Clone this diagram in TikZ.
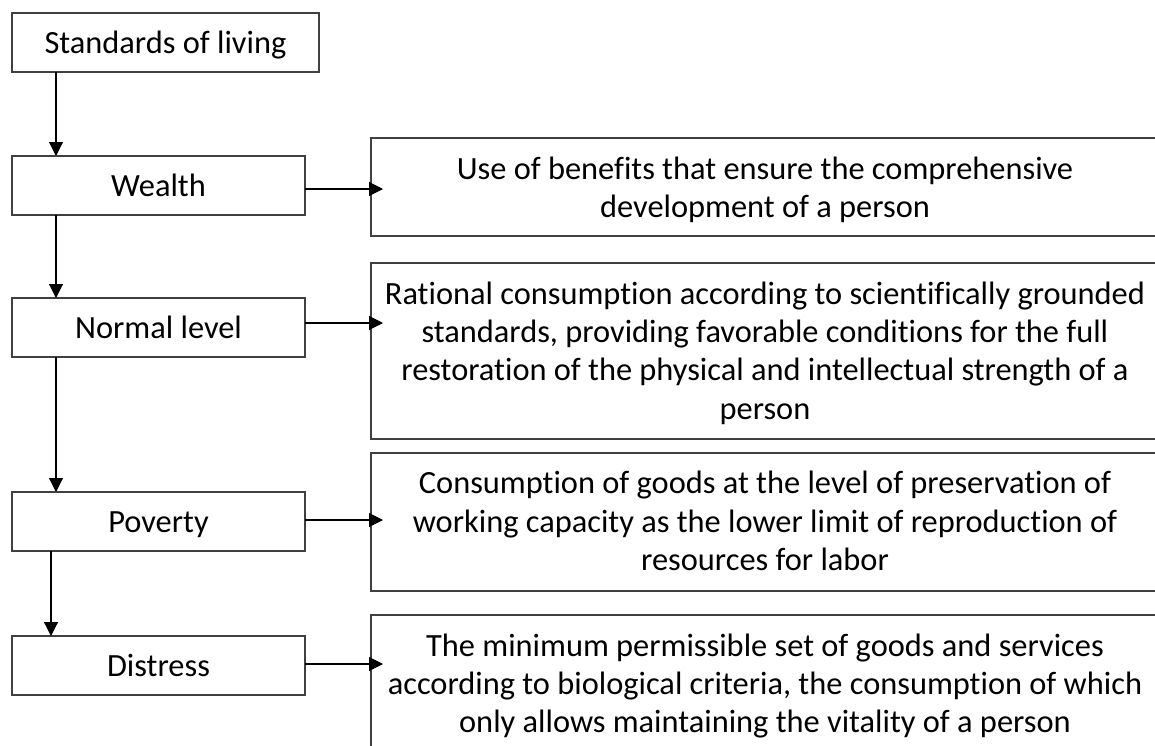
\documentclass[tikz,border=0pt]{standalone}
\usepackage{fontspec}
\setmainfont{Carlito}[Ligatures=NoCommon]
\usetikzlibrary{arrows.meta,calc}
\begin{document}
\begin{tikzpicture}[x=1pt,y=-1pt,
  every node/.style={font=\fontsize{32.4}{38.3}\selectfont},
  lbox/.style={draw=black!75,line width=1.1pt,inner sep=0pt,outer sep=0pt,minimum height=59pt,text height=24pt,text depth=2pt},
  rbox/.style={draw=black!75,line width=1.1pt,inner sep=0pt,outer sep=0pt,minimum width=788pt},
  rtext/.style={align=center,inner sep=0pt},
  arr/.style={line width=1.1pt,-{Triangle[length=14pt,width=14pt]}}]
\useasboundingbox (0,0) rectangle (1155,745);
\clip (0,0) rectangle (1155,745);
% left column
\node[lbox,minimum width=307pt] (std) at (165.5,42.5) {Standards of living};
\node[lbox,minimum width=293pt] (wea) at (158.5,185.5) {Wealth};
\node[lbox,minimum width=293pt] (nor) at (158.5,327.5) {Normal level};
\node[lbox,minimum width=293pt] (pov) at (158.5,521.5) {Poverty};
\node[lbox,minimum width=293pt] (dis) at (158.5,665.5) {Distress};
% right column
\node[rbox,minimum height=98pt] (r1) at (765,187) {};
\node[rbox,minimum height=176pt] (r2) at (765,351) {};
\node[rbox,minimum height=138pt] (r3) at (765,522) {};
\node[rbox,minimum height=150pt] (r4) at (765,690) {};
\node[rtext] (t1) at (765,190) {Use of benefits that ensure the comprehensive\\development of a person};
\node[rtext] (t2) at (765,353) {Rational consumption according to scientifically grounded\\standards, providing favorable conditions for the full\\restoration of the physical and intellectual strength of a\\person};
\node[rtext] (t3) at (765,521) {Consumption of goods at the level of preservation of\\working capacity as the lower limit of reproduction of\\resources for labor};
\node[rtext] (t4) at (765,686) {The minimum permissible set of goods and services\\according to biological criteria, the consumption of which\\only allows maintaining the vitality of a person};
% vertical arrows
\draw[arr] ($(std.south west)+(44,0)$) -- ($(wea.north west)+(44,0)$);
\draw[arr] ($(wea.south west)+(44,0)$) -- ($(nor.north west)+(44,0)$);
\draw[arr] ($(nor.south west)+(44,0)$) -- ($(pov.north west)+(44,0)$);
\draw[arr] ($(pov.south west)+(39,0)$) -- ($(dis.north west)+(39,0)$);
% horizontal arrows
\draw[arr] (wea.east |- 0,189) -- ($(r1.west |- 0,189)+(12,0)$);
\draw[arr] (nor.east |- 0,323) -- ($(r2.west |- 0,323)+(12,0)$);
\draw[arr] (pov.east |- 0,520) -- ($(r3.west |- 0,520)+(12,0)$);
\draw[arr] (dis.east |- 0,664) -- ($(r4.west |- 0,664)+(12,0)$);
\end{tikzpicture}
\end{document}
